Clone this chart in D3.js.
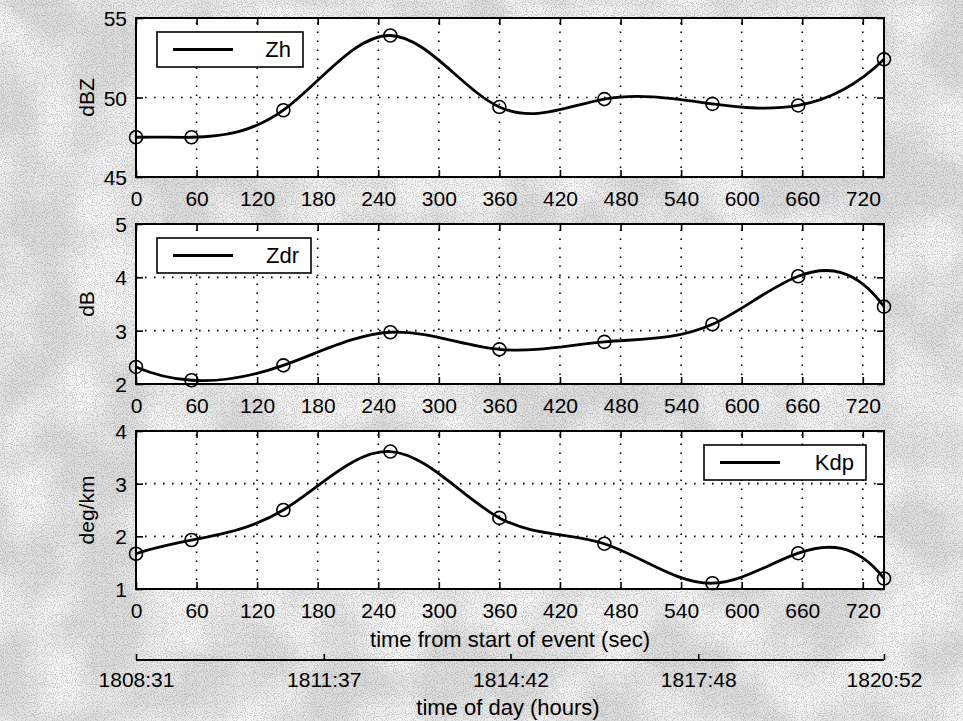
<!DOCTYPE html>
<html><head><meta charset="utf-8">
<script src="https://cdn.jsdelivr.net/npm/d3@7"></script>
<style>
html,body{margin:0;padding:0;background:#fff;}
svg{display:block;}
text{font-family:"Liberation Sans",Arial,Helvetica,sans-serif;fill:#000;}
</style></head>
<body>
<svg id="chart" width="963" height="721"></svg>
<script>
// ---- data ----
const seconds = [0, 55, 146, 252, 360, 464, 571, 656, 741];
const zhValues = [47.5, 47.5, 49.2, 53.9, 49.4, 49.9, 49.6, 49.5, 52.4];
const zdrValues = [2.32, 2.07, 2.35, 2.97, 2.65, 2.79, 3.12, 4.02, 3.45];
const kdpValues = [1.67, 1.93, 2.5, 3.61, 2.35, 1.86, 1.11, 1.68, 1.2];
const secTicks = [0, 60, 120, 180, 240, 300, 360, 420, 480, 540, 600, 660, 720];
const dayTickSecs = [0, 186, 371, 557, 741];
const dayTickLabels = ["1808:31", "1811:37", "1814:42", "1817:48", "1820:52"];
const zhTicks = [45, 50, 55];
const zdrTicks = [2, 3, 4, 5];
const kdpTicks = [1, 2, 3, 4];
const seriesNames = ["Zh", "Zdr", "Kdp"];
const unitLabels = ["dBZ", "dB", "deg/km"];

// ---- not-a-knot cubic spline curve (like MATLAB spline) for d3.line ----
function NotAKnot(context) { this._context = context; }
NotAKnot.prototype = {
  areaStart() { this._line = 0; }, areaEnd() { this._line = NaN; },
  lineStart() { this._x = []; this._y = []; },
  point(x, y) { this._x.push(+x); this._y.push(+y); },
  lineEnd() {
    const X = this._x, Y = this._y, n = X.length, c = this._context;
    if (!n) return;
    c.moveTo(X[0], Y[0]);
    if (n < 4) { for (let i = 1; i < n; i++) c.lineTo(X[i], Y[i]); return; }
    const h = []; for (let i = 0; i < n - 1; i++) h.push(X[i + 1] - X[i]);
    const A = Array.from({length: n}, () => new Array(n).fill(0)), b = new Array(n).fill(0);
    A[0][0] = h[1]; A[0][1] = -(h[0] + h[1]); A[0][2] = h[0];
    for (let i = 1; i < n - 1; i++) {
      A[i][i - 1] = h[i - 1]; A[i][i] = 2 * (h[i - 1] + h[i]); A[i][i + 1] = h[i];
      b[i] = 6 * ((Y[i + 1] - Y[i]) / h[i] - (Y[i] - Y[i - 1]) / h[i - 1]);
    }
    A[n - 1][n - 3] = h[n - 2]; A[n - 1][n - 2] = -(h[n - 3] + h[n - 2]); A[n - 1][n - 1] = h[n - 3];
    for (let k = 0; k < n; k++) {
      let p = k; for (let r = k + 1; r < n; r++) if (Math.abs(A[r][k]) > Math.abs(A[p][k])) p = r;
      [A[k], A[p]] = [A[p], A[k]]; [b[k], b[p]] = [b[p], b[k]];
      for (let r = k + 1; r < n; r++) {
        const f = A[r][k] / A[k][k];
        for (let cc = k; cc < n; cc++) A[r][cc] -= f * A[k][cc];
        b[r] -= f * b[k];
      }
    }
    const M = new Array(n).fill(0);
    for (let k = n - 1; k >= 0; k--) {
      let s = b[k]; for (let cc = k + 1; cc < n; cc++) s -= A[k][cc] * M[cc];
      M[k] = s / A[k][k];
    }
    const m = [];
    for (let i = 0; i < n - 1; i++) m.push((Y[i + 1] - Y[i]) / h[i] - h[i] * (2 * M[i] + M[i + 1]) / 6);
    m.push((Y[n - 1] - Y[n - 2]) / h[n - 2] + h[n - 2] * (M[n - 2] + 2 * M[n - 1]) / 6);
    for (let i = 0; i < n - 1; i++) {
      const t = h[i] / 3;
      c.bezierCurveTo(X[i] + t, Y[i] + m[i] * t, X[i + 1] - t, Y[i + 1] - m[i + 1] * t, X[i + 1], Y[i + 1]);
    }
  }
};
const curveNotAKnot = ctx => new NotAKnot(ctx);

const svg = d3.select("#chart");
const W = 963, H = 721;

// light stippled grey background (scanned look)
const defs = svg.append("defs");
const f = defs.append("filter").attr("id", "grain").attr("x", 0).attr("y", 0).attr("width", "100%").attr("height", "100%")
  .attr("color-interpolation-filters", "sRGB");
f.append("feTurbulence").attr("type", "fractalNoise").attr("baseFrequency", "0.014").attr("numOctaves", 2).attr("seed", 7).attr("result", "n");
f.append("feColorMatrix").attr("in", "n").attr("type", "matrix")
  .attr("values", "0 0 0 0 1  0 0 0 0 1  0 0 0 0 1  0 0 0 -3 1.9").attr("result", "w");
f.append("feComposite").attr("in", "w").attr("in2", "SourceGraphic").attr("operator", "in");
const f2 = defs.append("filter").attr("id", "stipple").attr("x", 0).attr("y", 0).attr("width", "100%").attr("height", "100%")
  .attr("color-interpolation-filters", "sRGB");
f2.append("feTurbulence").attr("type", "fractalNoise").attr("baseFrequency", "0.9").attr("numOctaves", 1).attr("seed", 3).attr("result", "n");
f2.append("feColorMatrix").attr("in", "n").attr("type", "matrix")
  .attr("values", "0 0 0 0 0.55  0 0 0 0 0.55  0 0 0 0 0.55  0 0 0 12 -6.2");
svg.append("rect").attr("width", W).attr("height", H).attr("fill", "#dcdcdc");
svg.append("rect").attr("width", W).attr("height", H).attr("fill", "#fff").attr("filter", "url(#grain)").attr("opacity", 0.75);
svg.append("rect").attr("width", W).attr("height", H).attr("fill", "#fff").attr("filter", "url(#stipple)").attr("opacity", 0.35);

const x = d3.scaleLinear().domain([0, 741]).range([136, 884]);

const panels = [
  {values: zhValues, ticks: zhTicks, domain: [45, 55], top: 18, bottom: 177, legendRight: false, legendW: 146},
  {values: zdrValues, ticks: zdrTicks, domain: [2, 5], top: 224, bottom: 384, legendRight: false, legendW: 154},
  {values: kdpValues, ticks: kdpTicks, domain: [1, 4], top: 431, bottom: 589, legendRight: true, legendW: 162}
];

const tickFont = 21, titleFont = 22, unitFont = 21;

panels.forEach((p, i) => {
  const y = d3.scaleLinear().domain(p.domain).range([p.bottom, p.top]);
  const g = svg.append("g");
  const x0 = x.range()[0], x1 = x.range()[1];
  g.append("rect").attr("x", x0).attr("y", p.top).attr("width", x1 - x0).attr("height", p.bottom - p.top).attr("fill", "#fff");

  const grid = g.append("g").attr("stroke", "#000").attr("stroke-width", 1.6).attr("stroke-dasharray", "1.6,7.4");
  secTicks.filter(t => t > 0).forEach(t => {
    grid.append("line").attr("x1", x(t)).attr("x2", x(t)).attr("y1", p.bottom).attr("y2", p.top);
  });
  p.ticks.slice(1, -1).forEach(t => {
    grid.append("line").attr("x1", x0).attr("x2", x1).attr("y1", y(t)).attr("y2", y(t));
  });

  const axB = g.append("g").attr("transform", `translate(0,${p.bottom})`)
    .call(d3.axisBottom(x).tickValues(secTicks).tickSizeInner(-7).tickSizeOuter(0).tickPadding(14));
  const axT = g.append("g").attr("transform", `translate(0,${p.top})`)
    .call(d3.axisTop(x).tickValues(secTicks).tickSizeInner(-7).tickSizeOuter(0).tickFormat(""));
  const axL = g.append("g").attr("transform", `translate(${x0},0)`)
    .call(d3.axisLeft(y).tickValues(p.ticks).tickSizeInner(-7).tickSizeOuter(0).tickPadding(9).tickFormat(d3.format("d")));
  const axR = g.append("g").attr("transform", `translate(${x1},0)`)
    .call(d3.axisRight(y).tickValues(p.ticks).tickSizeInner(-7).tickSizeOuter(0).tickFormat(""));
  [axB, axT, axL, axR].forEach(a => {
    a.select(".domain").remove();
    a.selectAll("line").attr("stroke", "#000").attr("stroke-width", 1.6);
    a.selectAll("text").style("font-size", tickFont + "px").attr("font-family", null);
  });
  axB.selectAll("text").attr("dy", "0.71em");
  axL.selectAll("text").attr("dy", "0.36em");

  g.append("rect").attr("x", x0).attr("y", p.top).attr("width", x1 - x0).attr("height", p.bottom - p.top)
    .attr("fill", "none").attr("stroke", "#000").attr("stroke-width", 2);

  g.append("text").attr("transform", `translate(${x0 - 42},${(p.top + p.bottom) / 2}) rotate(-90)`)
    .attr("text-anchor", "middle").style("font-size", unitFont + "px").text(unitLabels[i]);

  const pts = seconds.map((s, k) => [s, p.values[k]]);
  const line = d3.line().x(d => x(d[0])).y(d => y(d[1])).curve(curveNotAKnot);
  g.append("path").attr("d", line(pts)).attr("fill", "none").attr("stroke", "#000").attr("stroke-width", 2.8);
  g.selectAll("circle.m").data(pts).join("circle").attr("class", "m")
    .attr("cx", d => x(d[0])).attr("cy", d => y(d[1])).attr("r", 6.5)
    .attr("fill", "none").attr("stroke", "#000").attr("stroke-width", 1.6);

  const lw = p.legendW, lh = 35;
  const lx = p.legendRight ? x1 - 18 - lw : x0 + 21;
  const ly = p.top + 14;
  const lg = g.append("g");
  lg.append("rect").attr("x", lx).attr("y", ly).attr("width", lw).attr("height", lh)
    .attr("fill", "#fff").attr("stroke", "#000").attr("stroke-width", 1.6);
  lg.append("line").attr("x1", lx + 16).attr("x2", lx + 76).attr("y1", ly + lh / 2).attr("y2", ly + lh / 2)
    .attr("stroke", "#000").attr("stroke-width", 2.8);
  lg.append("text").attr("x", lx + lw - 12).attr("y", ly + lh / 2).attr("dy", "0.36em")
    .attr("text-anchor", "end").style("font-size", titleFont + "px").text(seriesNames[i]);
});

svg.append("text").attr("x", 510).attr("y", 647).attr("text-anchor", "middle")
  .style("font-size", titleFont + "px").text("time from start of event (sec)");

const ax2 = svg.append("g").attr("transform", "translate(0,660)")
  .call(d3.axisBottom(x).tickValues(dayTickSecs).tickSizeInner(-6).tickSizeOuter(0).tickPadding(12)
    .tickFormat((d, k) => dayTickLabels[k]));
ax2.select(".domain").attr("d", `M${x.range()[0]},0H${x.range()[1]}`).attr("stroke", "#000").attr("stroke-width", 2);
ax2.selectAll("line").attr("stroke", "#000").attr("stroke-width", 1.6);
ax2.selectAll("text").style("font-size", tickFont + "px").attr("font-family", null).attr("dy", "0.71em");
svg.append("text").attr("x", 508).attr("y", 715).attr("text-anchor", "middle")
  .style("font-size", titleFont + "px").text("time of day (hours)");
</script>
</body></html>
